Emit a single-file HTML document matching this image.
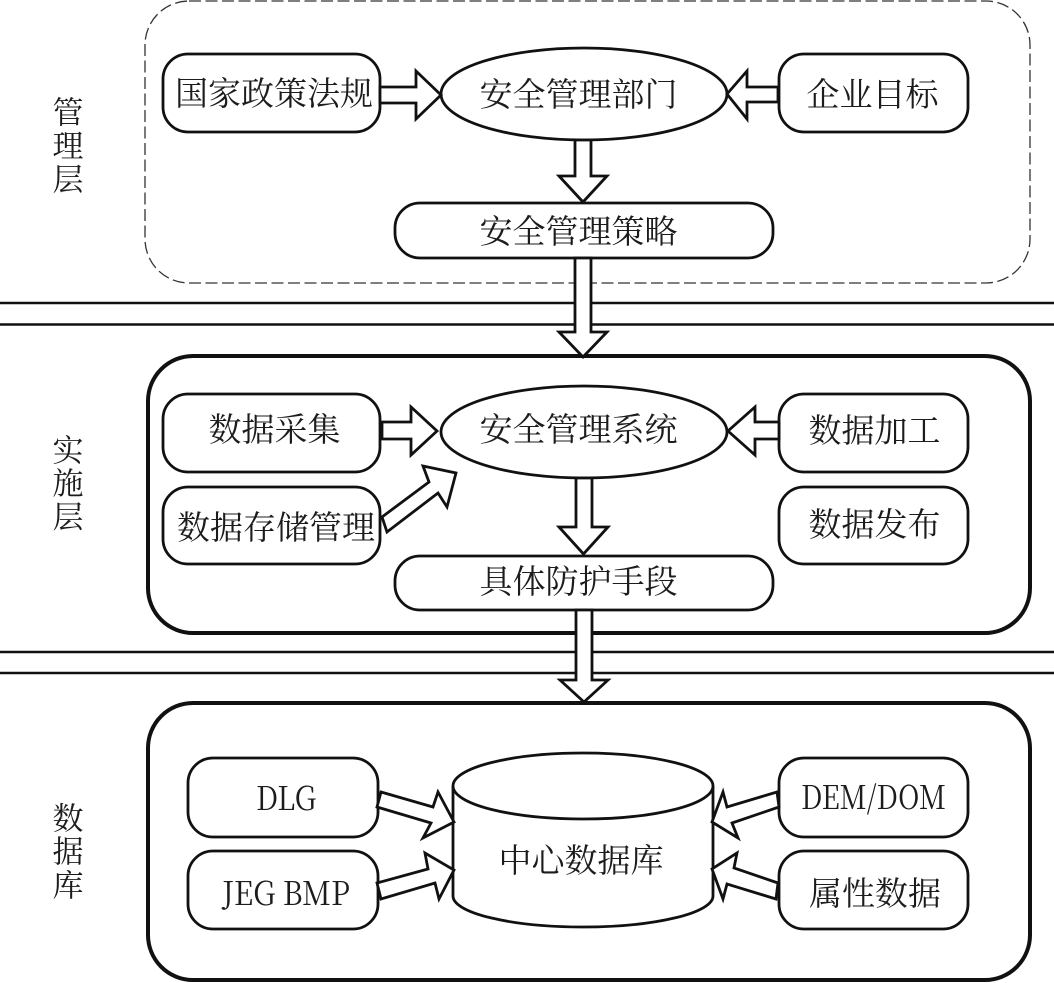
<!DOCTYPE html>
<html><head><meta charset="utf-8"><style>
html,body{margin:0;padding:0;background:#fff}
svg{display:block;filter:blur(0.35px)}
text{font-family:"Noto Serif CJK SC","Liberation Serif",serif;fill:#1c1c1c;text-anchor:middle}
.b{fill:#fff;stroke:#111;stroke-width:2.8}
.o{fill:#fff;stroke:#111;stroke-width:4}
.a{fill:#fff;stroke:#111;stroke-width:2.8;stroke-linejoin:miter}
</style></head><body>
<svg width="1054" height="983" viewBox="0 0 1054 983" xmlns="http://www.w3.org/2000/svg">
<rect x="145" y="1" width="885" height="282" rx="44" fill="#fff" stroke="#333" stroke-width="1.3" stroke-dasharray="12 4.5"/>
<path d="M0 303H1054M0 324.500H1054M0 652H1054M0 673H1054" stroke="#111" stroke-width="2.6" fill="none"/>
<rect class="o" x="148" y="356" width="882" height="277" rx="45"/>
<rect class="o" x="148" y="703" width="882" height="277" rx="45"/>

<rect class="b" x="163" y="54" width="217" height="78" rx="25"/>
<rect class="b" x="779" y="54" width="189" height="78" rx="25"/>
<ellipse class="b" cx="584" cy="94" rx="143" ry="46"/>
<rect class="b" x="395" y="203" width="378" height="55" rx="25"/>
<path class="a" d="M380 87H416V71L441 95L416 119V103H380Z"/>
<path class="a" d="M778 87H747V71L727 94L747 119V102H778Z"/>
<path class="a" d="M575 140H591V176H607L583 202L559 176H575Z"/>
<path class="a" d="M575 258H591V332H607L583 357L559 332H575Z"/>

<rect class="b" x="163" y="394" width="217" height="78" rx="25"/>
<rect class="b" x="163" y="487" width="217" height="77" rx="25"/>
<rect class="b" x="779" y="394" width="189" height="78" rx="25"/>
<rect class="b" x="779" y="487" width="189" height="77" rx="25"/>
<ellipse class="b" cx="584" cy="432" rx="143" ry="46"/>
<rect class="b" x="395" y="556" width="378" height="54" rx="25"/>
<path class="a" d="M382 422H411V407L437 431L411 455V439H382Z"/>
<path class="a" d="M779 422H755V407L728 431L755 455V439H779Z"/>
<path class="a" d="M382 517L429 482L423 466L456 473L447 507L438 493L387 532Z"/>
<path class="a" d="M576 478H592V527H608L583.500 554L559 527H576Z"/>
<path class="a" d="M576 610H592V680H608L584 702L560 680H576Z"/>

<rect class="b" x="188" y="758" width="190" height="79" rx="25"/>
<rect class="b" x="188" y="851" width="190" height="78" rx="25"/>
<rect class="b" x="779" y="758" width="189" height="79" rx="25"/>
<rect class="b" x="779" y="851" width="189" height="78" rx="25"/>
<path class="b" d="M453 786A130 33 0 0 1 713 786V896A130 31 0 0 1 453 896Z"/>
<path d="M453 786A130 33 0 0 0 713 786" fill="none" stroke="#111" stroke-width="2.8"/>
<path class="a" d="M381 792L433 807L438 792L454 822L423 838L431 823L377 807Z"/>
<path class="a" d="M377 883L428 869L425 853L454 870L439 899L435 883L381 899Z"/>
<path class="a" d="M777 792L727 807L723 792L712 822L738 838L732 823L779 807Z"/>
<path class="a" d="M778 883L734 868L737 853L712 869L723 899L727 884L776 899Z"/>

<g font-size="33">
<text x="274" y="105">国家政策法规</text>
<text x="872.500" y="106">企业目标</text>
<text x="578.500" y="106">安全管理部门</text>
<text x="578.500" y="243">安全管理策略</text>
<text x="274.500" y="441">数据采集</text>
<text x="276" y="539">数据存储管理</text>
<text x="874.500" y="442">数据加工</text>
<text x="874.500" y="536">数据发布</text>
<text x="578.500" y="441">安全管理系统</text>
<text x="578.500" y="593">具体防护手段</text>
<text x="581" y="872">中心数据库</text>
<text x="875" y="905">属性数据</text>
</g>
<g font-size="31">
<text x="68" y="123.500">管</text><text x="68" y="157">理</text><text x="68" y="190.500">层</text>
<text x="68" y="461.500">实</text><text x="68" y="494.500">施</text><text x="68" y="528">层</text>
<text x="68" y="829.500">数</text><text x="68" y="862.500">据</text><text x="68" y="896.500">库</text>
</g>
<g font-size="33" style="font-family:'Liberation Serif',serif">
<text x="286" y="810" textLength="60" lengthAdjust="spacingAndGlyphs">DLG</text>
<text x="286" y="905" textLength="128" lengthAdjust="spacingAndGlyphs">JEG BMP</text>
<text x="873.500" y="809" textLength="145" lengthAdjust="spacingAndGlyphs">DEM/DOM</text>
</g>
</svg>
</body></html>
